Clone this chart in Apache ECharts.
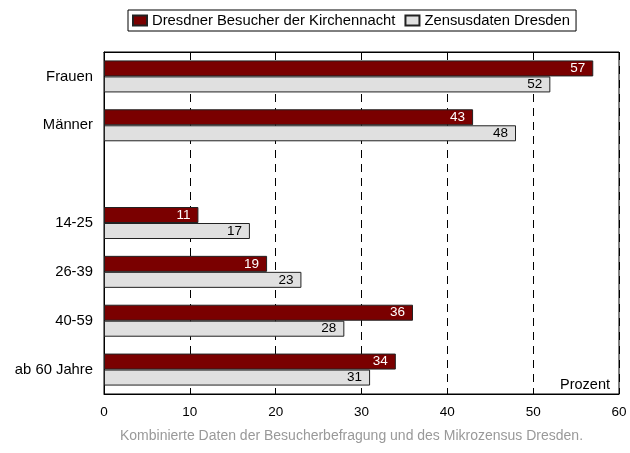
<!DOCTYPE html>
<html>
<head>
<meta charset="utf-8">
<script src="https://cdn.jsdelivr.net/npm/echarts@6/dist/echarts.min.js"></script>
<style>
  html, body { margin: 0; padding: 0; background: #fff; }
  #chart { width: 630px; height: 453px; }
</style>
</head>
<body>
<div id="chart"></div>
<script>
var categories = ['Frauen', 'Männer', '', '14-25', '26-39', '40-59', 'ab 60 Jahre']
var besucher = [57, 43, null, 11, 19, 36, 34]
var zensus = [52, 48, null, 17, 23, 28, 31]
var xTicks = [0, 10, 20, 30, 40, 50, 60]

var font = 'Liberation Sans, Arial, sans-serif'
var myChart = echarts.init(document.getElementById('chart'))

var option = {
  animation: false,
  textStyle: { fontFamily: font },
  legend: {
    top: 10,
    left: 128,
    padding: [3, 6, 3, 4],
    itemGap: 9,
    itemWidth: 14,
    itemHeight: 10,
    icon: 'rect',
    borderColor: '#000',
    borderWidth: 1,
    textStyle: { fontSize: 14.8, color: '#000', fontFamily: font },
    data: ['Dresdner Besucher der Kirchennacht', 'Zensusdaten Dresden']
  },
  grid: {
    left: 104,
    right: 11,
    top: 52,
    bottom: 59,
    show: true,
    borderColor: '#000',
    borderWidth: 1
  },
  xAxis: [{
    type: 'value',
    min: xTicks[0],
    max: xTicks[xTicks.length - 1],
    interval: 10,
    axisLine: { show: true, lineStyle: { color: '#000' } },
    axisTick: { show: true, inside: true, length: 5, lineStyle: { color: '#000' } },
    axisLabel: { fontSize: 13.5, color: '#000', margin: 11, fontFamily: font },
    splitLine: {
      show: true,
      lineStyle: { color: '#000', type: [8, 6] }
    }
  }, {
    type: 'value',
    position: 'top',
    min: xTicks[0],
    max: xTicks[xTicks.length - 1],
    interval: 10,
    axisLine: { show: true, lineStyle: { color: '#000' } },
    axisTick: { show: true, inside: true, length: 5, lineStyle: { color: '#000' } },
    axisLabel: { show: false },
    splitLine: { show: false }
  }],
  yAxis: {
    type: 'category',
    inverse: true,
    data: categories,
    axisLine: { show: true, lineStyle: { color: '#000' } },
    axisTick: { show: false },
    axisLabel: { fontSize: 14.8, color: '#000', margin: 11, fontFamily: font }
  },
  series: [{
    name: 'Dresdner Besucher der Kirchennacht',
    type: 'bar',
    data: besucher,
    barWidth: 16,
    barGap: '0%',
    itemStyle: { color: '#7a0000', borderColor: '#222', borderWidth: 1 },
    label: {
      show: true,
      position: 'insideRight',
      distance: 8,
      color: '#fff',
      fontSize: 13.5,
      fontFamily: font
    }
  }, {
    name: 'Zensusdaten Dresden',
    type: 'bar',
    data: zensus,
    barWidth: 16,
    barGap: '0%',
    itemStyle: { color: '#e0e0e0', borderColor: '#222', borderWidth: 1 },
    label: {
      show: true,
      position: 'insideRight',
      distance: 8,
      color: '#000',
      fontSize: 13.5,
      fontFamily: font
    }
  }],
  graphic: [{
    type: 'text',
    right: 20,
    top: 377,
    style: { text: 'Prozent', fill: '#000', font: '14.5px ' + font }
  }, {
    type: 'text',
    left: 120,
    top: 429,
    style: { text: 'Kombinierte Daten der Besucherbefragung und des Mikrozensus Dresden.', fill: '#999', font: '14px ' + font }
  }]
}

myChart.setOption(option)
</script>
</body>
</html>
